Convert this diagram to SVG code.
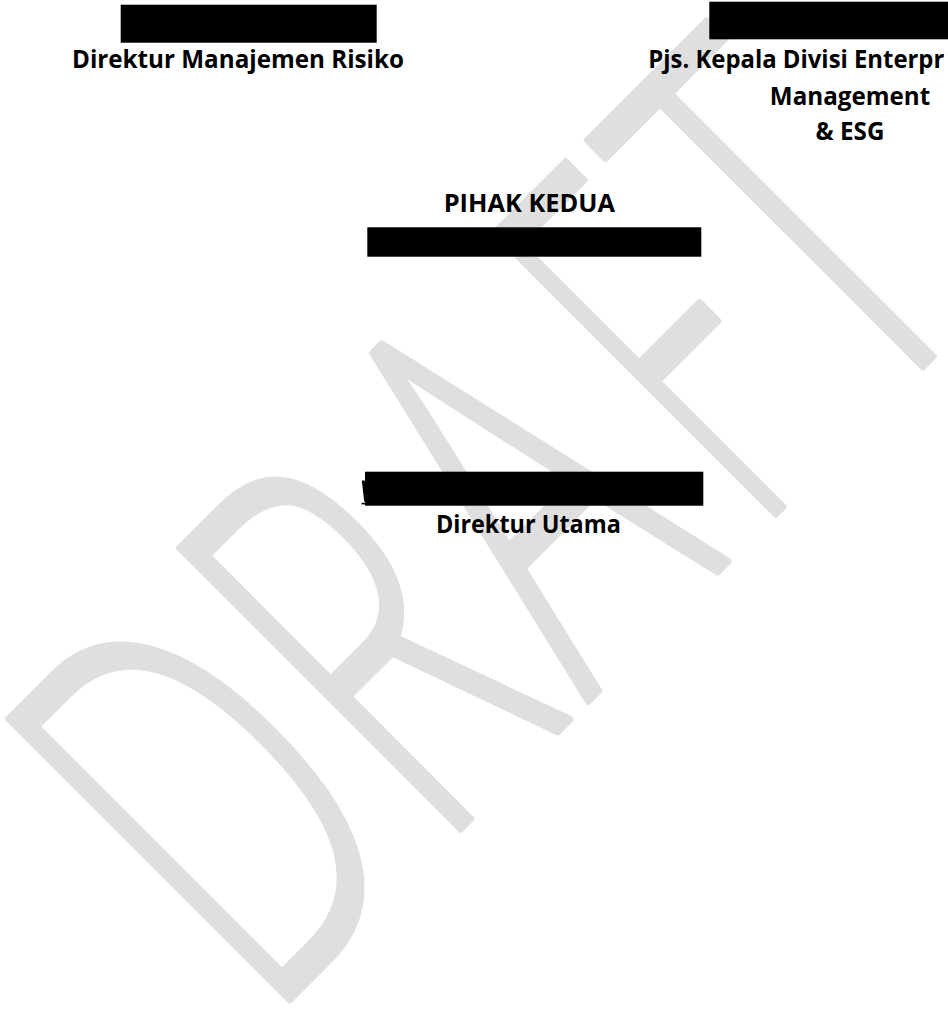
<svg xmlns="http://www.w3.org/2000/svg" width="948" height="1012" viewBox="0 0 948 1012">
  <style>
    .lbl { font-family: "Open Sans", "Liberation Sans", sans-serif; font-weight: 700; font-size: 24.2px; fill: #000000; }
    .caps { font-size: 25.4px; }
    .mid { text-anchor: middle; }
    .redact { fill: #000000; }
    .wm { font-family: "Open Sans", "Liberation Sans", sans-serif; font-weight: 300; font-size: 556px; fill: #dfdfdf; stroke: #dfdfdf; stroke-width: 6; stroke-linejoin: round; vector-effect: non-scaling-stroke; }
  </style>
  <rect x="0" y="0" width="948" height="1012" fill="#ffffff"/>
  <g id="watermark">
    <text class="wm" transform="rotate(-45) scale(0.6 1)" x="-895" y="911.6">D</text>
    <text class="wm" transform="rotate(-45) scale(0.6 1)" x="-492" y="911.6">R</text>
    <text class="wm" transform="rotate(-45) scale(0.6 1)" x="-135" y="911.6">A</text>
    <text class="wm" transform="rotate(-45) scale(0.477 1)" x="329" y="911.6">F</text>
    <text class="wm" transform="rotate(-45) scale(0.6 1)" x="522" y="911.6">T</text>
  </g>
  <g id="connectors"></g>
  <g id="signer-left">
    <rect class="redact" x="120.7" y="4.7" width="256" height="38"/>
    <text class="lbl mid" x="238" y="68.3" textLength="332" lengthAdjust="spacingAndGlyphs">Direktur Manajemen Risiko</text>
  </g>
  <g id="signer-right">
    <rect class="redact" x="709.3" y="1.7" width="240" height="37.6"/>
    <text class="lbl" x="648.3" y="68" textLength="296" lengthAdjust="spacingAndGlyphs">Pjs. Kepala Divisi Enterpr</text>
    <text class="lbl mid" x="850" y="104.5">Management</text>
    <text class="lbl mid" x="850" y="140">&amp; ESG</text>
  </g>
  <g id="pihak-kedua">
    <text class="lbl caps mid" x="529.3" y="211.7">PIHAK KEDUA</text>
    <rect class="redact" x="367.3" y="227.3" width="334" height="29.4"/>
  </g>
  <g id="direktur-utama">
    <polygon points="361.8,480.5 364.6,480.5 365.5,484 365.5,501.5 364.2,501.5" fill="#000000"/>
    <line x1="361.5" y1="503.6" x2="366" y2="503.6" stroke="#000000" stroke-width="1.6"/>
    <rect class="redact" x="365" y="471.7" width="338.3" height="34"/>
    <text class="lbl mid" x="528.4" y="533" textLength="185" lengthAdjust="spacingAndGlyphs">Direktur Utama</text>
  </g>
</svg>
